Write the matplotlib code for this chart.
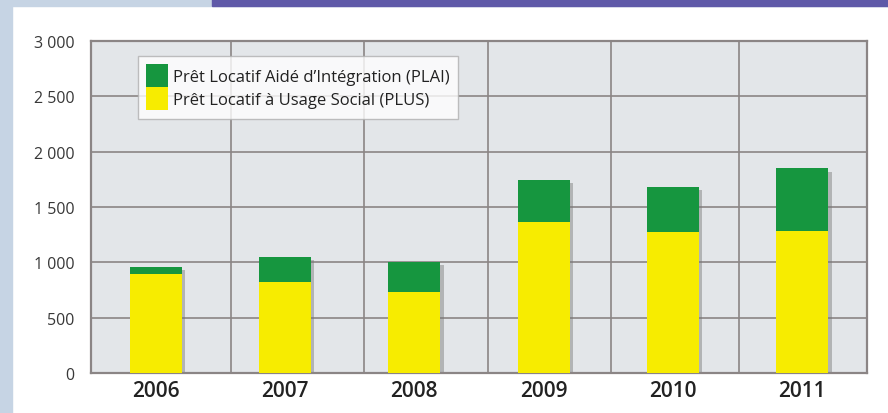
import matplotlib
matplotlib.use("Agg")
import matplotlib.pyplot as plt
import matplotlib.patheffects as pe
from matplotlib.ticker import FuncFormatter
import numpy as np

# data
years = ["2006", "2007", "2008", "2009", "2010", "2011"]
plus = [895, 820, 735, 1367, 1277, 1286]
plai = [65, 231, 271, 380, 406, 566]
label_plai = "Prêt Locatif Aidé d\u2019Intégration (PLAI)"
label_plus = "Prêt Locatif à Usage Social (PLUS)"

# colours
GREEN = "#16963f"
YELLOW = "#f7ec00"
PANEL = "#e3e6e9"
GRID = "#8b8585"

plt.rcParams["font.family"] = ["Open Sans", "DejaVu Sans"]

fig = plt.figure(figsize=(8.88, 4.14), dpi=100)
fig.patch.set_facecolor("white")

# page decoration: blue margin strips and the purple header band
fig.add_artist(plt.Rectangle((0, 0), 12 / 888, 1, transform=fig.transFigure,
                             color="#c6d4e4", zorder=0))
fig.add_artist(plt.Rectangle((0, 1 - 7 / 414), 1, 7 / 414, transform=fig.transFigure,
                             color="#c6d4e4", zorder=0))
fig.add_artist(plt.Rectangle((212 / 888, 1 - 7 / 414), 1, 7 / 414, transform=fig.transFigure,
                             color="#5f59a8", zorder=1))

ax = fig.add_axes([91 / 888, 40 / 414, 776 / 888, 332 / 414])
ax.set_facecolor(PANEL)

x = np.arange(len(years))
total = np.array(plus) + np.array(plai)

# drop shadow under the whole stack
sh = ax.bar(x, total, width=0.40, color=GREEN, zorder=2)
for rect in sh:
    rect.set_path_effects([pe.SimplePatchShadow(offset=(2.5, -2.5), shadow_rgbFace="#777777",
                                                alpha=0.45), pe.Normal()])
b1 = ax.bar(x, plus, width=0.40, color=YELLOW, label=label_plus, zorder=3)
b2 = ax.bar(x, plai, width=0.40, bottom=plus, color=GREEN, label=label_plai, zorder=3)

ax.set_xlim(-0.5, 5.5)
ax.set_ylim(0, 3000)
ax.set_yticks(np.arange(0, 3001, 500))
ax.yaxis.set_major_formatter(FuncFormatter(lambda v, p: f"{int(v):,}".replace(",", " ")))
ax.set_xticks(x)
ax.set_xticklabels(years)

# grid
for v in np.arange(500, 3000, 500):
    ax.axhline(v, color=GRID, lw=1.2, zorder=1)
for g in [0.58, 1.61, 2.57, 3.52, 4.51]:
    ax.axvline(g, color=GRID, lw=1.2, zorder=1)

for s in ax.spines.values():
    s.set_color(GRID)
    s.set_linewidth(1.6)

ax.tick_params(axis="y", length=0, pad=12, labelsize=11.5, labelcolor="#383838")
ax.tick_params(axis="x", length=0, pad=5, labelsize=15, labelcolor="#222222")
for t in ax.get_xticklabels():
    t.set_fontweight("semibold")

leg = ax.legend([b2, b1], [label_plai, label_plus], loc="upper left",
                bbox_to_anchor=(0.06, 0.955), borderaxespad=0, fontsize=12,
                frameon=True, fancybox=False, labelspacing=0, handleheight=1.75,
                handlelength=1.3, handletextpad=0.35, borderpad=0.5)
leg.get_frame().set_edgecolor("#b0b0b0")
leg.get_frame().set_linewidth(1)
for t in leg.get_texts():
    t.set_color("#222222")

fig.savefig("out.png", dpi=100)
